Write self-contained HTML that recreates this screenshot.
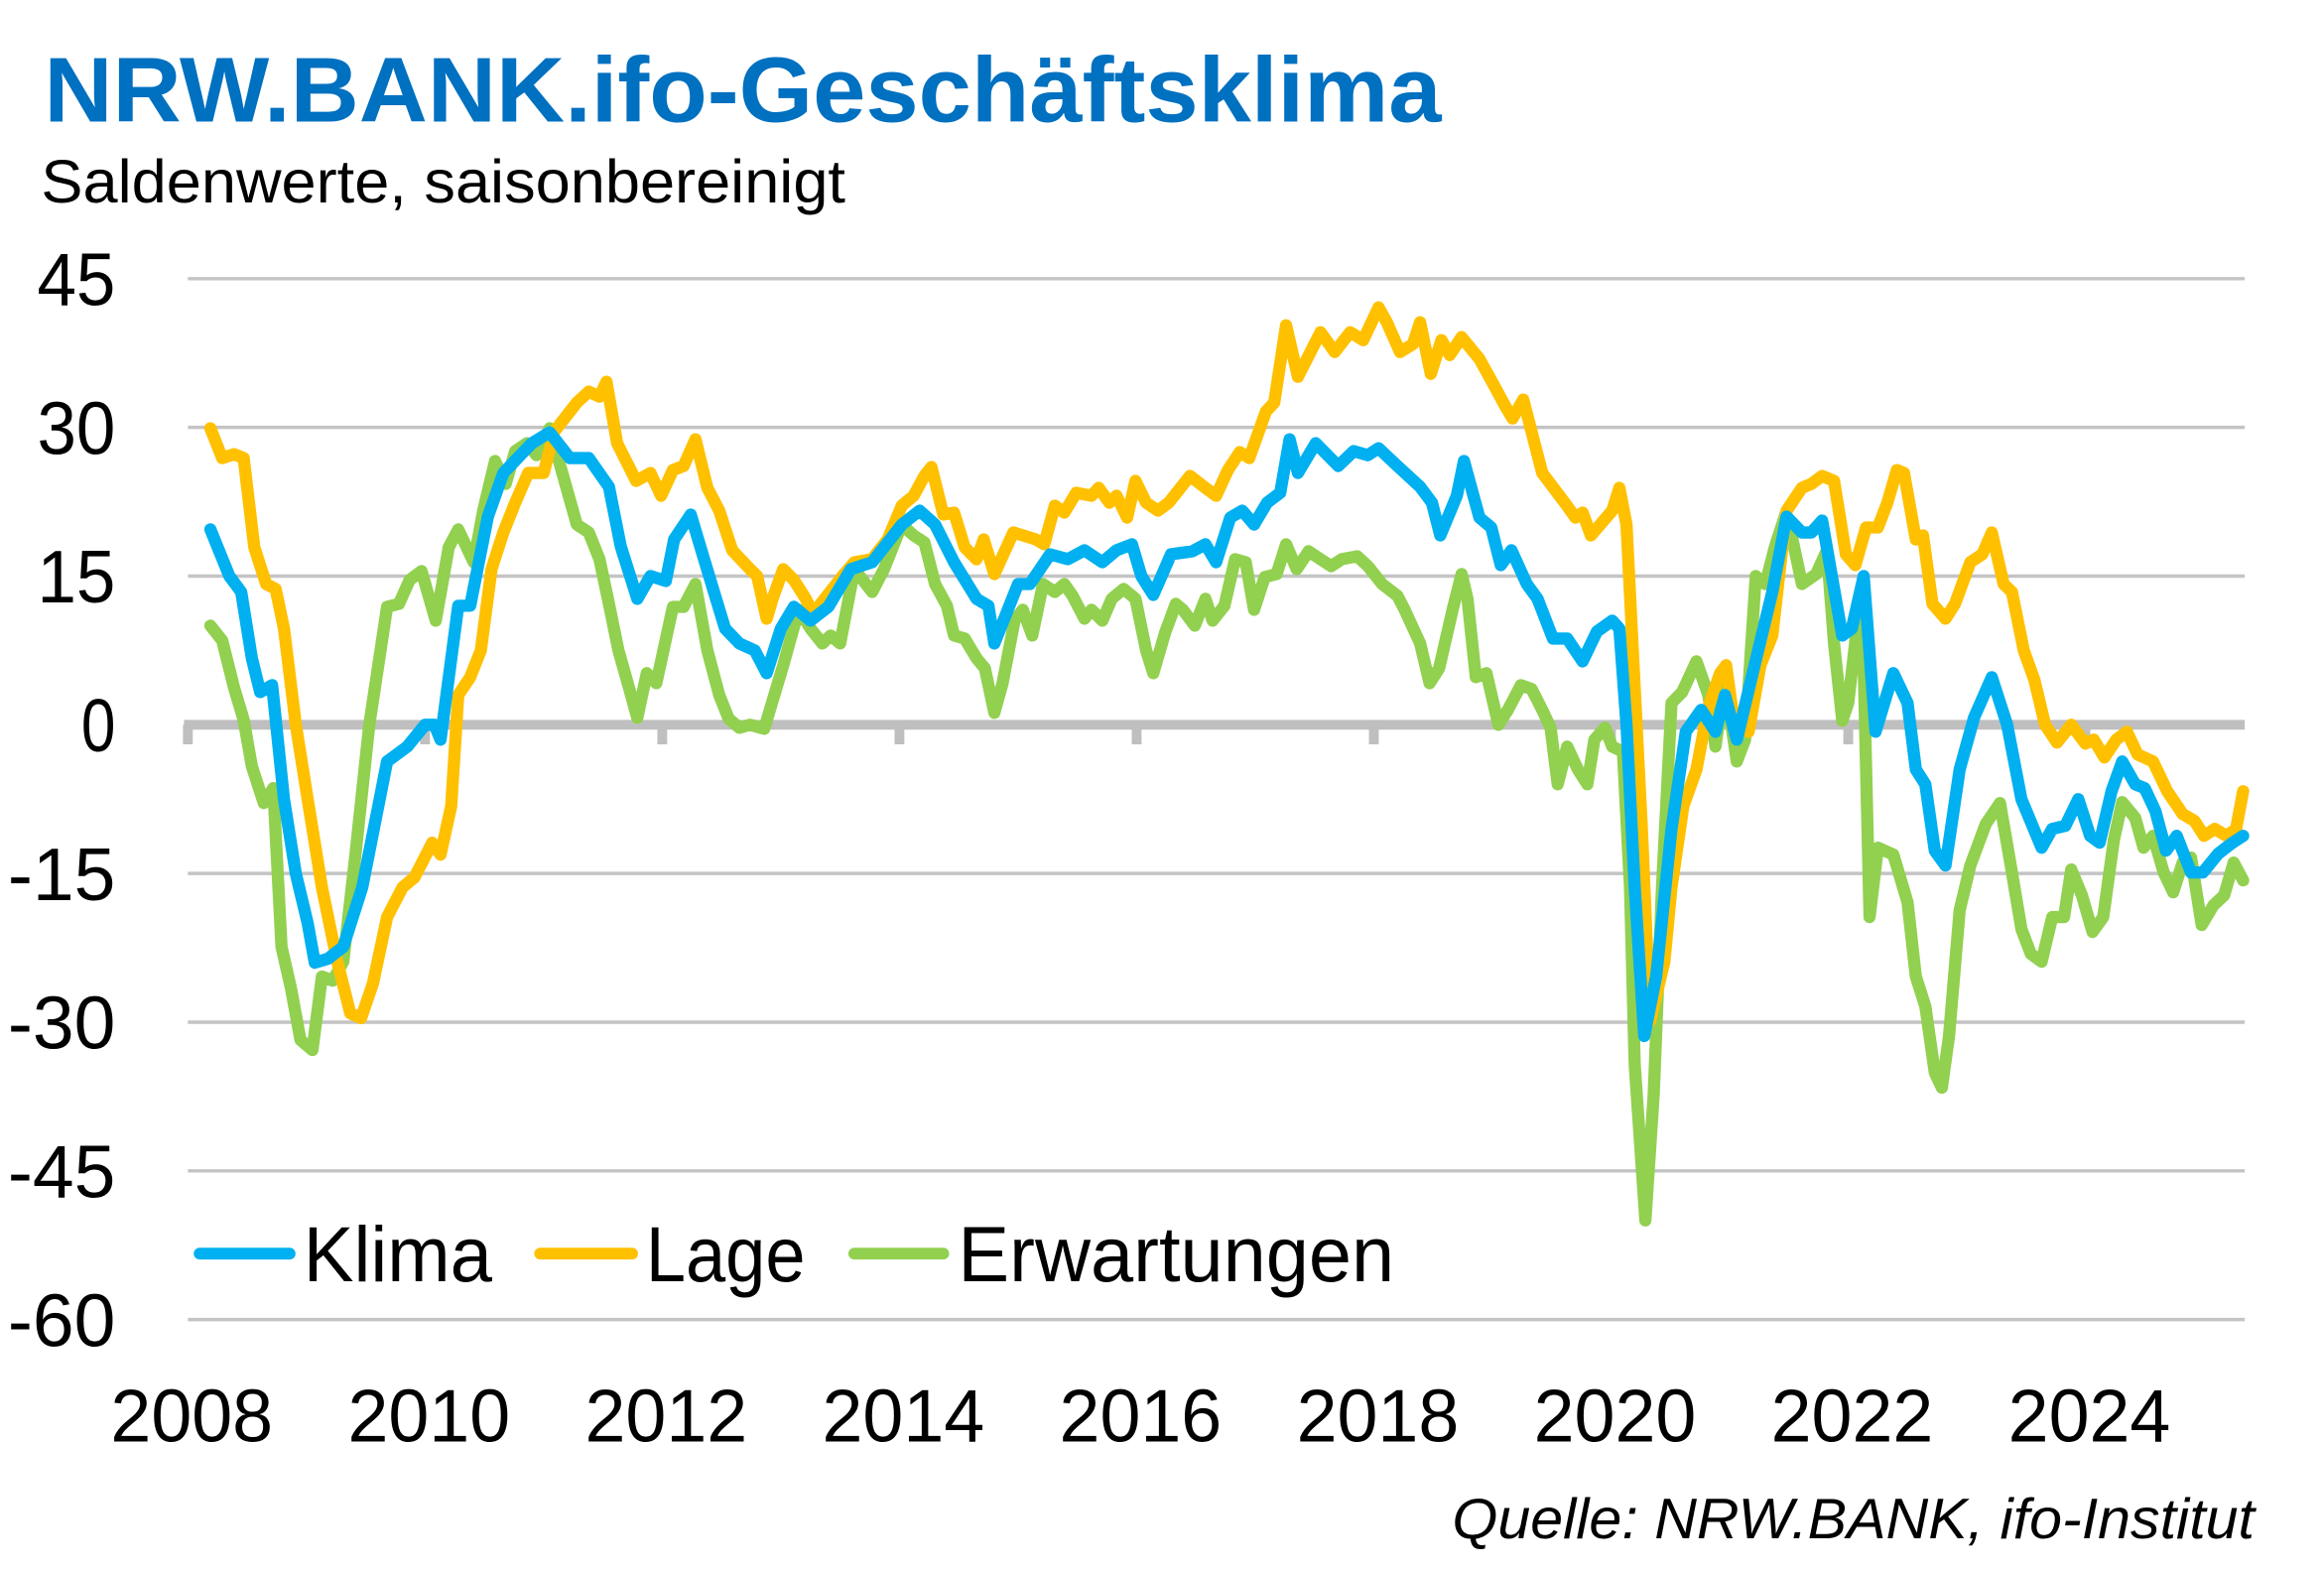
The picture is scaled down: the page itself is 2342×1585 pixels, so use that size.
<!DOCTYPE html>
<html><head><meta charset="utf-8"><title>NRW.BANK.ifo-Geschäftsklima</title>
<style>
html,body{margin:0;padding:0;background:#fff;}
svg{display:block;font-family:"Liberation Sans Narrow","Liberation Sans",sans-serif;}
</style></head>
<body>
<svg id="chart" width="2342" height="1585" viewBox="0 0 2342 1585" xmlns="http://www.w3.org/2000/svg">
<rect width="2342" height="1585" fill="#fff"/>
<g transform="scale(0.9861)">
<text x="45" y="124" font-size="94" font-weight="bold" fill="#0070C0" textLength="1428" lengthAdjust="spacingAndGlyphs">NRW.BANK.ifo-Geschäftsklima</text>
<text x="42" y="207" font-size="62" fill="#000" textLength="822" lengthAdjust="spacingAndGlyphs">Saldenwerte, saisonbereinigt</text>
<g id="grid"></g>
<g id="yticks"></g>
<g id="xticks"></g>
<g id="series"></g>
<g>
 <g>
  <line x1="204" y1="1281" x2="296" y2="1281" stroke="#00B0F0" stroke-width="12" stroke-linecap="round"/>
  <text x="310" y="1309" font-size="80" fill="#000" textLength="193" lengthAdjust="spacingAndGlyphs">Klima</text>
 </g>
 <g>
  <line x1="552" y1="1281" x2="646" y2="1281" stroke="#FFC000" stroke-width="12" stroke-linecap="round"/>
  <text x="660" y="1309" font-size="80" fill="#000" textLength="163" lengthAdjust="spacingAndGlyphs">Lage</text>
 </g>
 <g>
  <line x1="873" y1="1281" x2="964" y2="1281" stroke="#92D050" stroke-width="12" stroke-linecap="round"/>
  <text x="979" y="1309" font-size="80" fill="#000" textLength="446" lengthAdjust="spacingAndGlyphs">Erwartungen</text>
 </g>
</g>
<text x="1484" y="1572" font-size="58" font-style="italic" fill="#000" textLength="820" lengthAdjust="spacingAndGlyphs">Quelle: NRW.BANK, ifo-Institut</text>
</g>
</svg>
<script>
const yTickValues = [45, 30, 15, 0, -15, -30, -45, -60];
const yTickLabels = ["45", "30", "15", "0", "-15", "-30", "-45", "-60"];
const xTickYears = [2008, 2010, 2012, 2014, 2016, 2018, 2020, 2022, 2024];
const xTickLabels = ["2008", "2010", "2012", "2014", "2016", "2018", "2020", "2022", "2024"];

const klimaDates = [2008.19,2008.35,2008.45,2008.54,2008.61,2008.71,2008.81,2008.91,2009.01,2009.07,2009.18,2009.31,2009.47,2009.68,2009.85,2010.0,2010.08,2010.13,2010.28,2010.38,2010.53,2010.66,2010.9,2011.05,2011.22,2011.38,2011.55,2011.65,2011.79,2011.9,2012.03,2012.1,2012.24,2012.34,2012.53,2012.65,2012.78,2012.88,2013.0,2013.11,2013.25,2013.4,2013.59,2013.77,2014.02,2014.17,2014.3,2014.46,2014.65,2014.75,2014.8,2015.0,2015.1,2015.27,2015.42,2015.56,2015.71,2015.83,2015.96,2016.04,2016.14,2016.29,2016.47,2016.58,2016.67,2016.79,2016.89,2016.99,2017.1,2017.21,2017.29,2017.36,2017.51,2017.7,2017.83,2017.95,2018.04,2018.2,2018.39,2018.49,2018.56,2018.7,2018.76,2018.89,2018.99,2019.07,2019.16,2019.29,2019.38,2019.51,2019.63,2019.76,2019.88,2020.01,2020.07,2020.13,2020.2,2020.28,2020.38,2020.51,2020.63,2020.76,2020.88,2020.96,2021.06,2021.21,2021.36,2021.48,2021.61,2021.69,2021.78,2021.95,2022.03,2022.13,2022.23,2022.38,2022.5,2022.57,2022.65,2022.73,2022.82,2022.94,2023.06,2023.21,2023.34,2023.46,2023.63,2023.72,2023.83,2023.94,2024.04,2024.12,2024.22,2024.31,2024.42,2024.5,2024.59,2024.68,2024.77,2024.89,2024.99,2025.12,2025.24,2025.33];
const klimaValues = [19.7,15,13.4,6.7,3.3,4,-7.5,-15,-20,-24,-23.6,-22.4,-16.4,-3.7,-2.2,0,0,-1.5,12,12,21,25.4,28.4,29.5,26.9,26.9,24,18,12.7,15,14.5,18.7,21.2,17.2,9.7,8.2,7.5,5.2,9.7,11.9,10.5,11.9,15.7,16.4,20.2,21.6,20.2,16.4,12.7,12,8.2,14.2,14.2,17.2,16.7,17.6,16.4,17.6,18.2,15,13.1,17.2,17.5,18.2,16.4,20.9,21.6,20.2,22.4,23.4,28.8,25.4,28.4,26.1,27.6,27.2,27.9,26.1,24,22.4,19.1,23.1,26.6,20.9,19.9,16.1,17.6,14.2,12.7,8.7,8.7,6.4,9.4,10.5,9.7,0,-16.4,-31.4,-25.4,-10.5,-0.7,1.5,-0.7,3,-1.5,6,13.4,21,19.4,19.4,20.6,9,9.7,15,-0.7,5.2,2.2,-4.5,-6,-12.7,-14.2,-4.5,0.7,4.8,0,-7.5,-12.4,-10.5,-10.2,-7.5,-11.2,-11.9,-6.7,-3.7,-6,-6.4,-8.7,-12.7,-11.2,-14.9,-14.9,-13,-11.9,-11.2];

const lageDates = [2008.19,2008.29,2008.39,2008.47,2008.56,2008.66,2008.74,2008.81,2008.91,2009.01,2009.13,2009.26,2009.37,2009.46,2009.56,2009.68,2009.81,2009.91,2010.06,2010.13,2010.22,2010.28,2010.38,2010.47,2010.56,2010.66,2010.76,2010.87,2011.0,2011.09,2011.28,2011.38,2011.47,2011.53,2011.62,2011.78,2011.9,2011.99,2012.09,2012.18,2012.28,2012.38,2012.48,2012.59,2012.74,2012.8,2012.88,2012.93,2013.02,2013.11,2013.21,2013.27,2013.37,2013.52,2013.62,2013.77,2013.9,2014.02,2014.12,2014.21,2014.27,2014.37,2014.46,2014.55,2014.65,2014.71,2014.8,2014.96,2015.15,2015.22,2015.31,2015.39,2015.49,2015.62,2015.68,2015.77,2015.83,2015.92,2015.99,2016.08,2016.18,2016.27,2016.45,2016.58,2016.67,2016.77,2016.87,2016.95,2017.09,2017.16,2017.26,2017.36,2017.55,2017.67,2017.8,2017.91,2018.04,2018.11,2018.22,2018.33,2018.39,2018.48,2018.57,2018.64,2018.74,2018.89,2019.01,2019.11,2019.17,2019.26,2019.42,2019.61,2019.7,2019.76,2019.83,2020.01,2020.07,2020.13,2020.19,2020.26,2020.33,2020.45,2020.51,2020.61,2020.72,2020.82,2020.92,2020.97,2021.04,2021.16,2021.26,2021.36,2021.48,2021.61,2021.69,2021.78,2021.88,2021.98,2022.06,2022.15,2022.25,2022.33,2022.41,2022.47,2022.57,2022.63,2022.71,2022.82,2022.9,2023.03,2023.13,2023.21,2023.31,2023.38,2023.48,2023.57,2023.66,2023.76,2023.88,2024.0,2024.07,2024.16,2024.26,2024.35,2024.44,2024.57,2024.69,2024.82,2024.92,2025.0,2025.09,2025.19,2025.27,2025.33];
const lageValues = [29.9,26.9,27.3,26.9,17.9,14.2,13.7,9.7,0,-7.5,-16.4,-23.9,-29.1,-29.6,-26.1,-19.4,-16.4,-15.4,-11.9,-13.1,-8.2,3,4.8,7.5,15.7,19.4,22.4,25.4,25.4,29.6,32.5,33.6,33.1,34.6,28.4,24.6,25.4,23.1,25.7,26.1,28.8,23.9,21.6,17.6,15.7,15,10.7,12.7,15.7,14.6,12.7,11.2,12.7,15,16.4,16.7,18.7,22.1,23.1,25.1,26,21.2,21.4,17.9,16.7,18.7,15.2,19.4,18.7,18.2,22.1,21.4,23.4,23.1,23.9,22.4,23.1,20.9,24.6,22.4,21.6,22.4,25.1,23.9,23.1,25.7,27.5,26.9,31.6,32.5,40.3,35.1,39.6,37.6,39.6,38.8,42.1,40.6,37.6,38.4,40.6,35.4,38.8,37.3,39.1,36.9,34.3,32.1,30.9,32.8,25.4,22.4,20.9,21.4,19.1,21.6,23.9,20.2,6,-10.5,-29.9,-23.9,-16.4,-8.2,-4.5,1.8,5.2,6,0,-0.7,6,9,21.6,23.9,24.3,25.1,24.6,17.2,16.1,19.9,19.9,22.4,25.7,25.4,18.7,19.1,12.2,10.7,12.2,16.4,17.2,19.4,14.2,13.4,7.5,4.5,0,-1.8,0,-1.9,-1.5,-3.3,-1.5,-0.7,-3,-3.7,-6.7,-9,-9.7,-11.2,-10.5,-11.2,-10.5,-6.7];

const erwDates = [2008.19,2008.29,2008.39,2008.47,2008.54,2008.64,2008.72,2008.79,2008.87,2008.95,2009.05,2009.13,2009.22,2009.31,2009.41,2009.53,2009.68,2009.78,2009.87,2009.97,2010.09,2010.2,2010.28,2010.41,2010.49,2010.59,2010.68,2010.76,2010.86,2010.94,2011.05,2011.15,2011.28,2011.38,2011.47,2011.55,2011.63,2011.72,2011.79,2011.87,2011.95,2012.09,2012.18,2012.28,2012.38,2012.48,2012.56,2012.65,2012.74,2012.86,2013.02,2013.15,2013.25,2013.35,2013.42,2013.5,2013.62,2013.77,2013.87,2014.02,2014.12,2014.21,2014.3,2014.4,2014.46,2014.55,2014.65,2014.72,2014.8,2014.87,2014.97,2015.04,2015.12,2015.21,2015.31,2015.39,2015.46,2015.56,2015.62,2015.71,2015.79,2015.89,2015.99,2016.08,2016.14,2016.24,2016.33,2016.39,2016.49,2016.58,2016.64,2016.74,2016.83,2016.92,2016.99,2017.08,2017.18,2017.26,2017.35,2017.45,2017.55,2017.64,2017.73,2017.86,2017.95,2018.07,2018.2,2018.26,2018.39,2018.47,2018.55,2018.67,2018.74,2018.79,2018.86,2018.95,2019.05,2019.13,2019.24,2019.33,2019.42,2019.49,2019.55,2019.63,2019.72,2019.8,2019.86,2019.95,2020.01,2020.1,2020.16,2020.2,2020.29,2020.36,2020.43,2020.51,2020.6,2020.72,2020.82,2020.88,2020.96,2021.06,2021.13,2021.22,2021.3,2021.38,2021.47,2021.53,2021.61,2021.73,2021.82,2021.88,2021.95,2022.0,2022.08,2022.13,2022.18,2022.25,2022.38,2022.5,2022.57,2022.65,2022.73,2022.79,2022.85,2022.94,2023.03,2023.16,2023.28,2023.38,2023.46,2023.54,2023.63,2023.72,2023.82,2023.88,2023.97,2024.06,2024.15,2024.24,2024.31,2024.42,2024.49,2024.57,2024.66,2024.74,2024.82,2024.89,2024.98,2025.08,2025.17,2025.25,2025.33];
const erwValues = [10,8.5,3.7,0.5,-4.2,-7.9,-6.4,-22.4,-26.6,-31.8,-32.8,-25.4,-25.8,-23.9,-13.4,0,11.9,12.2,14.6,15.5,10.5,17.9,19.7,16.4,21.6,26.6,24.3,27.6,28.4,27.2,29.9,25.7,20.2,19.4,16.7,12.2,7.5,3.7,0.7,5.2,4.2,11.9,11.9,14.2,7.5,3,0.6,-0.3,0,-0.4,6,11.6,9.7,8.2,9,8.2,15.7,13.4,15.7,20.2,19.1,18.4,14.2,12,9,8.7,6.7,5.7,1.2,4.2,10.5,11.6,9,14.2,13.4,14.2,13,10.7,11.6,10.5,12.7,13.7,12.7,7.5,5.2,9.3,12.2,11.6,10,12.7,10.5,12,16.7,16.4,11.6,14.9,15.2,18.2,15.7,17.5,16.7,16,16.7,17,16,14.2,13,11.6,8.2,4.2,5.7,11.9,15.2,12.7,4.8,5.2,0,1.5,4,3.6,1.5,-0.3,-6,-2.2,-4.5,-6,-1.5,-0.3,-2.2,-2.7,-16.4,-34.3,-50,-37.3,-16.4,2.2,3.3,6.4,3,-2.2,4.5,-3.7,-1.5,15,14.2,17.9,21.2,18.7,14.2,15.2,17.6,8.2,0.4,2.2,10.5,6,-19.4,-12.4,-13.1,-17.9,-25.4,-28.4,-35.1,-36.6,-31.4,-18.7,-14.2,-10,-7.9,-14.9,-20.6,-23.1,-23.9,-19.4,-19.4,-14.6,-17.2,-20.9,-19.4,-11.6,-7.8,-9.4,-12.4,-11.2,-14.9,-16.9,-13.9,-13.4,-20.2,-18.2,-17.2,-13.9,-15.7];

const X0 = 192, PX_PER_YEAR = 121.2, Y0 = 740.6, PX_PER_UNIT = 10.13, XR = 2294;
function xScale(year){ return X0 + (year - 2008) * PX_PER_YEAR; }
function yScale(v){ return Y0 - v * PX_PER_UNIT; }
const NS = "http://www.w3.org/2000/svg";
function mk(tag, attrs, parent){ const e = document.createElementNS(NS, tag); for (const k in attrs) e.setAttribute(k, attrs[k]); parent.appendChild(e); return e; }

const grid = document.getElementById('grid');
yTickValues.forEach(function(v){
  if (v === 0) return;
  const l = mk('line', {x1: X0, x2: XR, y1: yScale(v), y2: yScale(v), stroke: '#c4c4c4', 'stroke-width': 3.5}, grid);
  
  
});
const zl = mk('line', {x1: X0 - 4, x2: XR, y1: yScale(0), y2: yScale(0), stroke: '#bfbfbf', 'stroke-width': 10}, grid);


xTickYears.forEach(function(yr){
  const t = mk('rect', {x: xScale(yr) - 5, y: yScale(0), width: 10, height: 20, fill: '#bfbfbf'}, grid);
  
  
});

const yt = document.getElementById('yticks');
yTickValues.forEach(function(v, i){
  const lab = yTickLabels[i];
  const w = lab.length === 1 ? 35 : (lab.length === 2 ? 80 : 110);
  const t = mk('text', {x: 118, y: yScale(v) + 27, 'font-size': 76, 'text-anchor': 'end', fill: '#000', textLength: w, lengthAdjust: 'spacingAndGlyphs'}, yt);
  t.textContent = lab;
  
  
});

const xt = document.getElementById('xticks');
xTickYears.forEach(function(yr, i){
  const t = mk('text', {x: xScale(yr) + 4, y: 1473, 'font-size': 76, 'text-anchor': 'middle', fill: '#000', textLength: 166, lengthAdjust: 'spacingAndGlyphs'}, xt);
  t.textContent = xTickLabels[i];
  
  
});

const sg = document.getElementById('series');
function drawSeries(dates, vals, color, name){
  const pts = dates.map(function(d, i){ return xScale(d).toFixed(1) + ',' + yScale(vals[i]).toFixed(1); }).join(' ');
  const p = mk('polyline', {points: pts, fill: 'none', stroke: color, 'stroke-width': 12.5, 'stroke-linejoin': 'round', 'stroke-linecap': 'round'}, sg);
  
  
}
drawSeries(erwDates, erwValues, '#92D050', 'erwartungen-line');
drawSeries(lageDates, lageValues, '#FFC000', 'lage-line');
drawSeries(klimaDates, klimaValues, '#00B0F0', 'klima-line');
</script>
</body></html>
